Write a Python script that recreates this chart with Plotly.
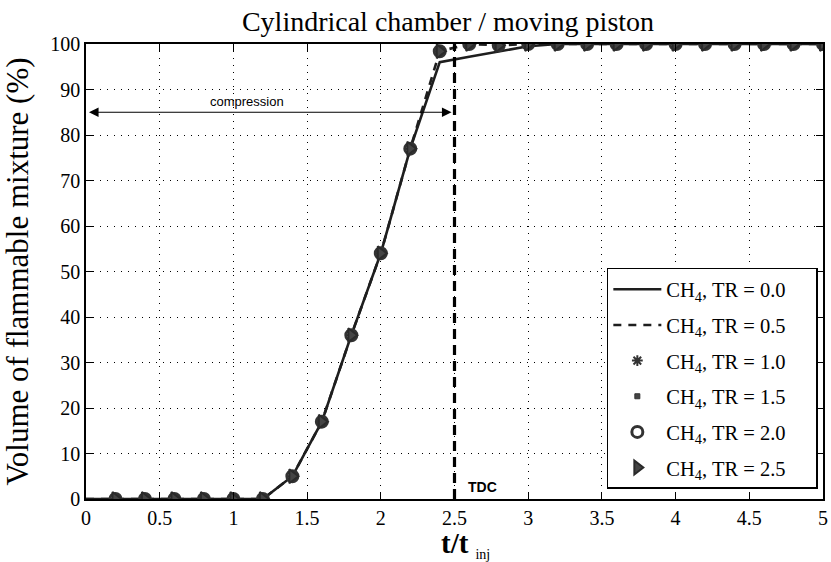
import plotly.graph_objects as go

# Sample times (t / t_inj)
t_ratio = [0.0, 0.2, 0.4, 0.6, 0.8, 1.0, 1.2, 1.4, 1.6, 1.8, 2.0, 2.2, 2.4,
           2.6, 2.8, 3.0, 3.2, 3.4, 3.6, 3.8, 4.0, 4.2, 4.4, 4.6, 4.8, 5.0]

# Volume of flammable mixture (%) for each TR value
vol_tr00 = [0, 0, 0, 0, 0, 0, 0, 5, 17, 36, 54, 77, 96,
            97.2, 98.3, 99.5, 100, 100, 100, 100, 100, 100, 100, 100, 100, 100]
vol_tr05 = [0, 0, 0, 0, 0, 0, 0, 5, 17, 36, 54, 77, 98.4,
            100, 99.7, 100, 100, 100, 100, 100, 100, 100, 100, 100, 100, 100]
vol_tr10 = vol_tr05
vol_tr15 = vol_tr05
vol_tr20 = vol_tr05
vol_tr25 = vol_tr05

tr_labels = ["0.0", "0.5", "1.0", "1.5", "2.0", "2.5"]

x_ticks = [0, 0.5, 1, 1.5, 2, 2.5, 3, 3.5, 4, 4.5, 5]
x_ticktext = ["0", "0.5", "1", "1.5", "2", "2.5", "3", "3.5", "4", "4.5", "5"]
y_ticks = [0, 10, 20, 30, 40, 50, 60, 70, 80, 90, 100]

TDC_X = 2.5          # top dead centre
COMPRESSION_Y = 85   # level of the compression arrow
COMPRESSION_END = 2.48

SERIF = "Liberation Serif"
SANS = "Liberation Sans"
INK = "#1e1e1e"

def lbl(tr):
    return "CH<sub>4</sub>, TR = " + tr + "&nbsp;&nbsp;&nbsp;&nbsp;&nbsp;"

fig = go.Figure()

fig.add_trace(go.Scatter(
    x=t_ratio, y=vol_tr00, mode="lines", name=lbl(tr_labels[0]),
    legendgroup="g0", line=dict(color=INK, width=2.6)))
fig.add_trace(go.Scatter(
    x=t_ratio, y=vol_tr05, mode="lines", name=lbl(tr_labels[1]),
    legendgroup="g1", line=dict(color=INK, width=2.6, dash="8px,7px")))

marker_styles = [
    dict(symbol="asterisk-open", size=9, color="#333", line=dict(width=2, color="#333")),
    dict(symbol="square", size=5, color="#444", line=dict(width=1, color="#333")),
    dict(symbol="circle-open", size=11, color="#333", line=dict(width=3, color="#333")),
    dict(symbol="triangle-right", size=12, color="#444", line=dict(width=2, color="#2a2a2a")),
]
for i, (vals, ms) in enumerate(zip([vol_tr10, vol_tr15, vol_tr20, vol_tr25], marker_styles)):
    fig.add_trace(go.Scatter(
        x=t_ratio[1:], y=vals[1:], mode="markers", name=lbl(tr_labels[i + 2]),
        legendgroup="g%d" % (i + 2), marker=ms))

# TDC marker line
fig.add_shape(type="line", x0=TDC_X, x1=TDC_X, y0=0, y1=100, xref="x", yref="y",
              line=dict(color="black", width=3.2, dash="10px,6px"))

# Compression stroke arrow (heads at both ends)
fig.add_annotation(x=COMPRESSION_END, y=COMPRESSION_Y, ax=0.01, ay=COMPRESSION_Y,
                   xref="x", yref="y", axref="x", ayref="y", text="",
                   showarrow=True, arrowhead=2, arrowside="end+start",
                   arrowsize=1.6, arrowwidth=1.2, arrowcolor="black",
                   standoff=0, startstandoff=0)
fig.add_annotation(x=1.09, y=COMPRESSION_Y, yshift=11, xref="x", yref="y",
                   text="compression", showarrow=False,
                   font=dict(family=SANS, size=13, color="black"))
fig.add_annotation(x=TDC_X + 0.19, y=2.6, xref="x", yref="y",
                   text="<b>TDC</b>", showarrow=False,
                   font=dict(family=SANS, size=14, color="black"))

# x-axis title
fig.add_annotation(x=(465 - 86) / 737, y=0, xref="paper", yref="paper",
                   yshift=-45, xanchor="center", yanchor="middle", showarrow=False,
                   text="<b>t/t</b><sub><span style='font-size:14px'>&nbsp;&nbsp;inj</span></sub>",
                   font=dict(family=SERIF, size=29, color="black"))

axis_common = dict(
    showline=True, linecolor="black", linewidth=1.5, mirror="ticks",
    ticks="inside", ticklen=7, tickwidth=1.2, tickcolor="black",
    showgrid=True, gridcolor="black", gridwidth=1, griddash="1px,6px",
    zeroline=False, tickfont=dict(family=SERIF, size=20, color="black"),
)

fig.update_xaxes(axis_common, range=[0, 5], tickvals=x_ticks, ticktext=x_ticktext)
fig.update_yaxes(axis_common, range=[0, 100], tickvals=y_ticks,
                 title=dict(text="Volume of flammable mixture (%)",
                            font=dict(family=SERIF, size=31, color="black"), standoff=15))

fig.update_layout(
    width=831, height=562,
    margin=dict(l=86, r=8, t=44, b=63, autoexpand=False),
    paper_bgcolor="white", plot_bgcolor="white",
    title=dict(text="Cylindrical chamber / moving piston", x=448 / 831, xanchor="center",
               y=1 - 21 / 562, yanchor="middle",
               font=dict(family=SERIF, size=28, color="black")),
    legend=dict(x=0.993, y=0.022, xanchor="right", yanchor="bottom",
                bgcolor="white", bordercolor="black", borderwidth=1.5,
                font=dict(family=SERIF, size=20.5, color="black"),
                tracegroupgap=6, itemwidth=48),
    showlegend=True,
)

fig.write_html("out.html")
